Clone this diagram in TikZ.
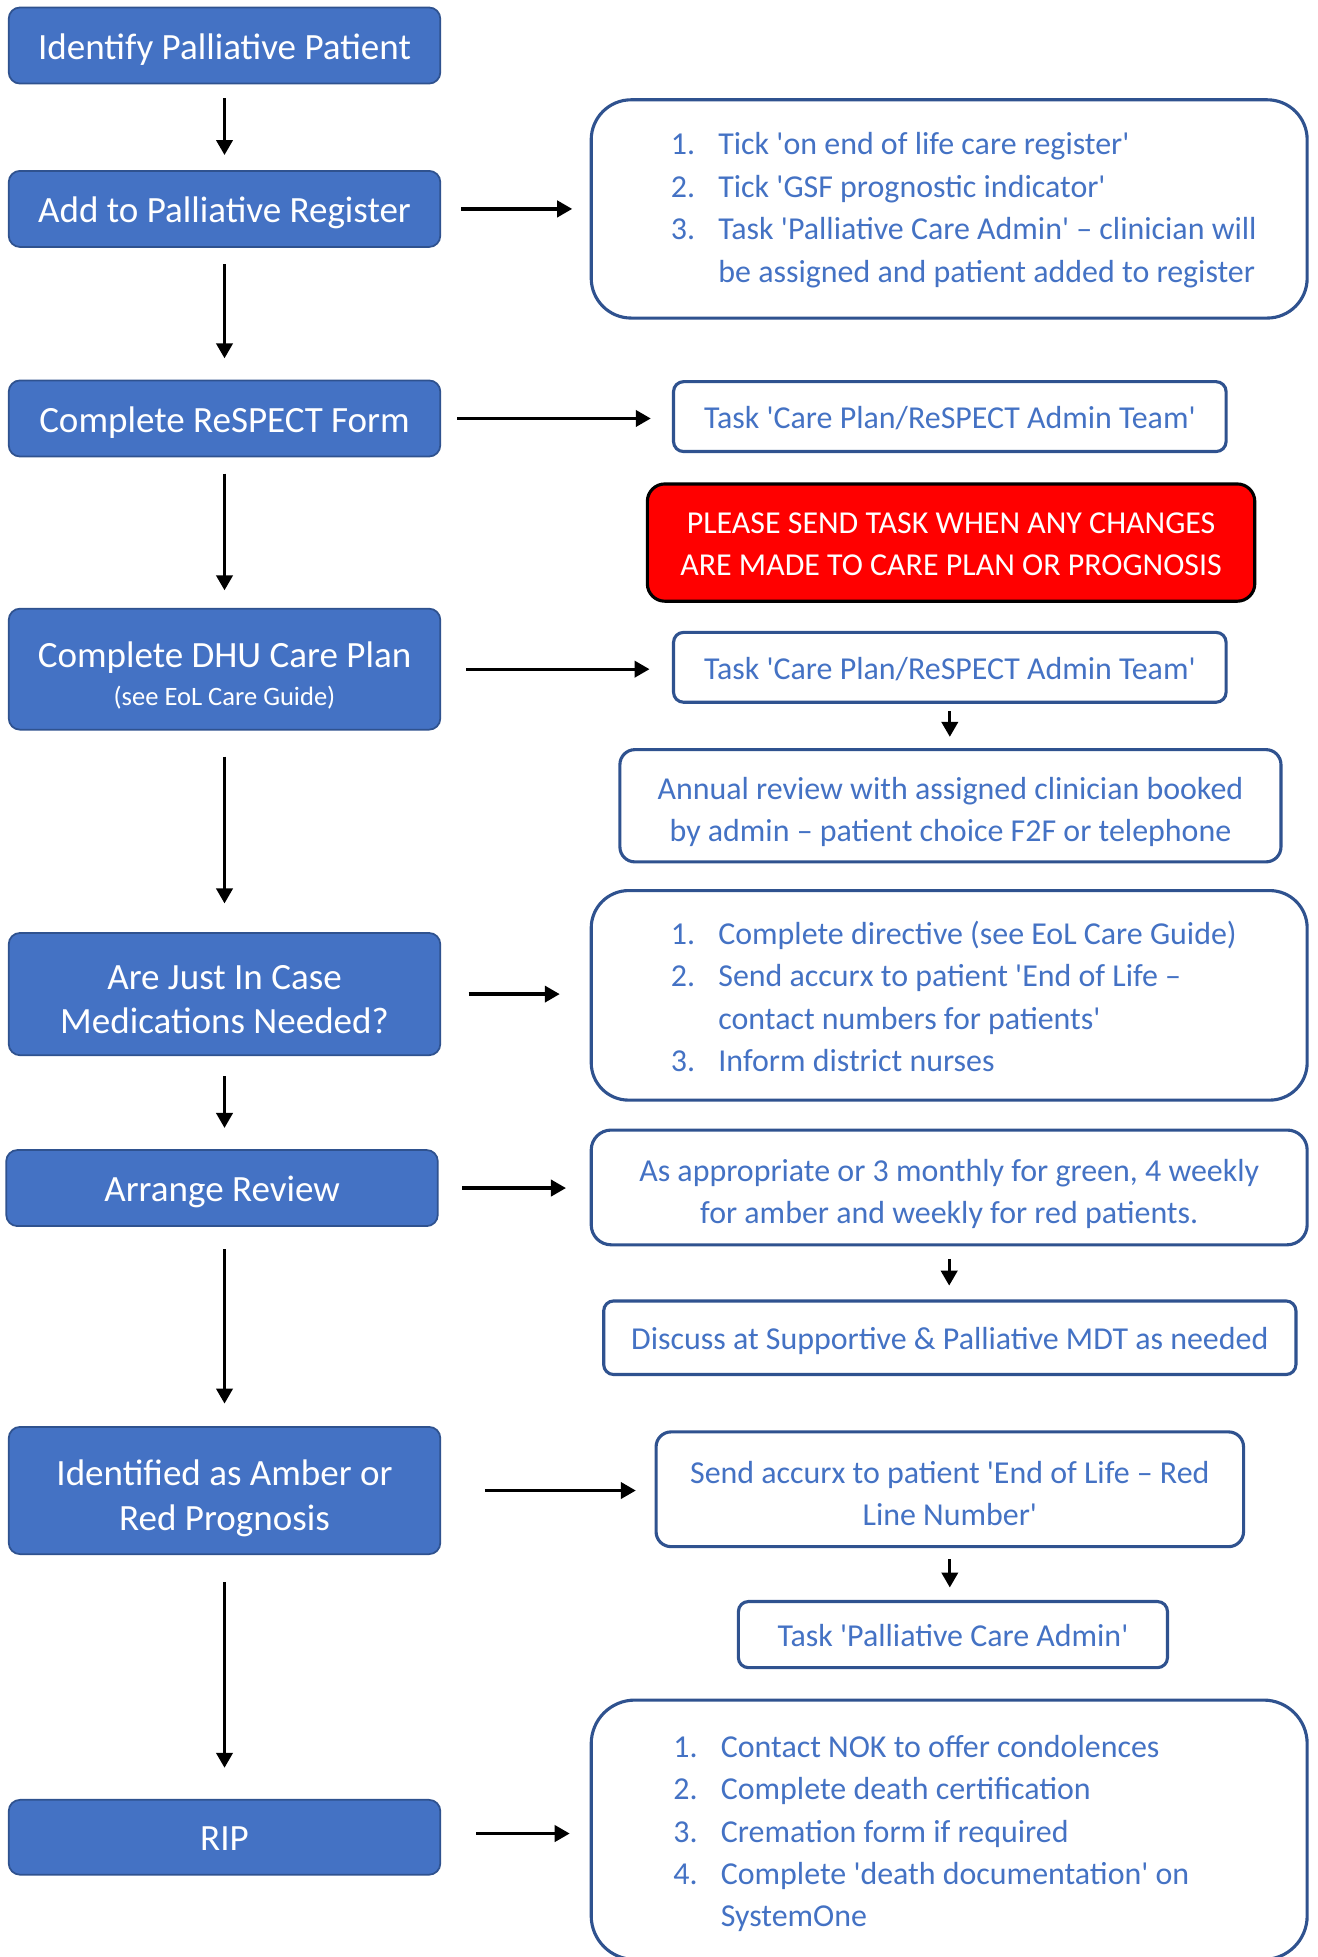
\documentclass[tikz,border=0pt]{standalone}
\usepackage{fontspec}
\setmainfont{Carlito}[Ligatures=TeXOff]
\usetikzlibrary{arrows.meta}

\definecolor{stepblue}{HTML}{4472C4}
\definecolor{edgeblue}{HTML}{2F528F}
\definecolor{alertred}{HTML}{FF0000}

\newcommand{\listno}[1]{\makebox[38pt][l]{#1}}
\newcommand{\lineasc}{\rule{0pt}{0.95em}}
\newcommand{\firstasc}{\rule{0pt}{1.15em}}
\newcommand{\linedesc}{\rule[-0.21em]{0pt}{0.21em}}

\tikzset{
  stage/.style={draw=edgeblue, line width=1.4pt, fill=stepblue, text=white,
    rounded corners=9pt, minimum width=346pt, inner sep=0pt, align=center,
    font=\fontsize{29.7}{36}\selectfont,
    execute at begin node=\lineasc, execute at end node=\linedesc},
  action/.style={draw=edgeblue, line width=2.5pt, fill=white, text=stepblue,
    inner sep=0pt, align=center, font=\fontsize{25.6}{34}\selectfont,
    execute at begin node=\lineasc, execute at end node=\linedesc},
  listtext/.style={text=stepblue, inner sep=0pt, align=left, anchor=west,
    font=\fontsize{25.6}{34}\selectfont},
  down/.style={line width=2.6pt, -{Triangle[length=12pt,width=13pt]}},
  across/.style={line width=2.6pt, -{Triangle[length=12pt,width=13pt]}},
}

\begin{document}
\begin{tikzpicture}[x=1pt, y=-1pt]
  \useasboundingbox (0,0) rectangle (1056,1569);

  % left column
  \node[stage, minimum height=61pt] (identify) at (180,36.5) {Identify Palliative Patient};
  \node[stage, minimum height=61pt] (register) at (180,167.5) {Add to Palliative Register};
  \node[stage, minimum height=61pt] (respect) at (180,335.5) {Complete ReSPECT Form};
  \node[stage, minimum height=97pt] (careplan) at (180,536.5)
    {\firstasc Complete DHU Care Plan\\[-6pt]{\fontsize{21.3}{26}\selectfont (see EoL Care Guide)}};
  \node[stage, minimum height=98pt] (jic) at (180,797) {\firstasc Are Just In Case\\Medications Needed?};
  \node[stage, minimum height=61pt] (review) at (178,952.5) {Arrange Review};
  \node[stage, minimum height=102pt] (prognosis) at (180,1195) {\firstasc Identified as Amber or\\Red Prognosis};
  \node[stage, minimum height=60pt] (rip) at (180,1473) {RIP};

  % right column
  \node[action, rounded corners=32pt, minimum width=574pt, minimum height=175pt] (regsteps) at (761,167.5) {};
  \node[listtext] (regtext) at ([xshift=65pt, yshift=-1pt]regsteps.west)
    {\listno{1.}Tick 'on end of life care register'\\
     \listno{2.}Tick 'GSF prognostic indicator'\\
     \listno{3.}Task 'Palliative Care Admin' – clinician will\\
     \listno{}be assigned and patient added to register};
  \node[action, rounded corners=8pt, minimum width=443pt, minimum height=56pt] (task1) at (761.5,334)
    {Task 'Care Plan/ReSPECT Admin Team'};
  \node[action, draw=black, fill=alertred, text=white, rounded corners=14pt,
    minimum width=487pt, minimum height=94pt] (warning) at (762.5,435)
    {\lineasc PLEASE SEND TASK WHEN ANY CHANGES\\ARE MADE TO CARE PLAN OR PROGNOSIS};
  \node[action, rounded corners=8pt, minimum width=443pt, minimum height=56pt] (task2) at (761.5,535)
    {Task 'Care Plan/ReSPECT Admin Team'};
  \node[action, rounded corners=12pt, minimum width=530pt, minimum height=90pt] (annual) at (762,646)
    {\firstasc Annual review with assigned clinician booked\\by admin – patient choice F2F or telephone};
  \node[action, rounded corners=30pt, minimum width=574pt, minimum height=168pt] (jicsteps) at (761,798) {};
  \node[listtext] (jictext) at ([xshift=65pt, yshift=-1pt]jicsteps.west)
    {\listno{1.}Complete directive (see EoL Care Guide)\\
     \listno{2.}Send accurx to patient 'End of Life –\\
     \listno{}contact numbers for patients'\\
     \listno{3.}Inform district nurses};
  \node[action, rounded corners=16pt, minimum width=574pt, minimum height=92pt] (interval) at (761,952)
    {\firstasc As appropriate or 3 monthly for green, 4 weekly\\for amber and weekly for red patients.};
  \node[action, rounded corners=8pt, minimum width=555pt, minimum height=59pt] (mdt) at (761.5,1072.5)
    {Discuss at Supportive \& Palliative MDT as needed};
  \node[action, rounded corners=12pt, minimum width=471pt, minimum height=92pt] (redline) at (761.5,1194)
    {\firstasc Send accurx to patient 'End of Life – Red\\Line Number'};
  \node[action, rounded corners=8pt, minimum width=344pt, minimum height=53pt] (admin) at (764,1310.5)
    {Task 'Palliative Care Admin'};
  \node[action, rounded corners=35pt, minimum width=574pt, minimum height=208pt] (ripsteps) at (761,1467) {};
  \node[listtext] (riptext) at ([xshift=67pt, yshift=-3pt]ripsteps.west)
    {\listno{1.}Contact NOK to offer condolences\\
     \listno{2.}Complete death certification\\
     \listno{3.}Cremation form if required\\
     \listno{4.}Complete 'death documentation' on\\
     \listno{}SystemOne};

  % down the left
  \draw[down, shorten <=11pt, shorten >=12pt] (identify.south) -- (identify.south |- register.north);
  \draw[down, shorten <=13pt, shorten >=17pt] (register.south) -- (register.south |- respect.north);
  \draw[down, shorten <=13pt, shorten >=14pt] (respect.south) -- (respect.south |- careplan.north);
  \draw[down, shorten <=21pt, shorten >=23pt] (careplan.south) -- (careplan.south |- jic.north);
  \draw[down, shorten <=16pt, shorten >=17pt] (jic.south) -- (jic.south |- review.north);
  \draw[down, shorten <=18pt, shorten >=18pt] (jic.south |- review.south) -- (jic.south |- prognosis.north);
  \draw[down, shorten <=22pt, shorten >=25pt] (prognosis.south) -- (prognosis.south |- rip.north);

  % across
  \draw[across, shorten <=16pt, shorten >=14pt] (register.east) -- (register.east -| regsteps.west);
  \draw[across, shorten <=13pt, shorten >=17pt] (respect.east) -- (respect.east -| task1.west);
  \draw[across, shorten <=20pt, shorten >=18pt] (careplan.east) -- (careplan.east -| task2.west);
  \draw[across, shorten <=22pt, shorten >=24pt] (jic.east) -- (jic.east -| jicsteps.west);
  \draw[across, shorten <=19pt, shorten >=19pt] (review.east) -- (review.east -| interval.west);
  \draw[across, shorten <=35pt, shorten >=15pt] (prognosis.east) -- (prognosis.east -| redline.west);
  \draw[across, shorten <=28pt, shorten >=16pt] ([yshift=3pt]rip.east) -- ([yshift=3pt]rip.east -| ripsteps.west);

  % down the right
  \draw[down, shorten <=6pt, shorten >=9pt] (task2.south) -- (task2.south |- annual.north);
  \draw[down, shorten <=10pt, shorten >=11pt] (interval.south) -- (interval.south |- mdt.north);
  \draw[down, shorten <=9pt, shorten >=10pt] (redline.south) -- (redline.south |- admin.north);
\end{tikzpicture}
\end{document}
